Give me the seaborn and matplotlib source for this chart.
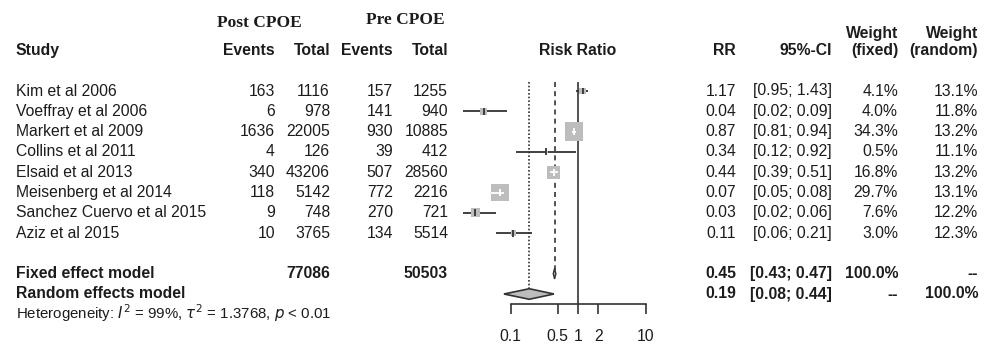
import numpy as np
import matplotlib
matplotlib.use("Agg")
import matplotlib.pyplot as plt
import seaborn as sns

sns.set_style("white")
plt.rcParams['font.family'] = ['Liberation Sans', 'DejaVu Sans']

####### data

studies = ["Kim et al 2006", "Voeffray et al 2006", "Markert et al 2009", "Collins et al 2011",
           "Elsaid et al 2013", "Meisenberg et al 2014", "Sanchez Cuervo et al 2015", "Aziz et al 2015"]
post_events = [163, 6, 1636, 4, 340, 118, 9, 10]
post_total = [1116, 978, 22005, 126, 43206, 5142, 748, 3765]
pre_events = [157, 141, 930, 39, 507, 772, 270, 134]
pre_total = [1255, 940, 10885, 412, 28560, 2216, 721, 5514]
rr = [1.17, 0.04, 0.87, 0.34, 0.44, 0.07, 0.03, 0.11]
ci_lo = [0.95, 0.02, 0.81, 0.12, 0.39, 0.05, 0.02, 0.06]
ci_hi = [1.43, 0.09, 0.94, 0.92, 0.51, 0.08, 0.06, 0.21]
w_fixed = [4.1, 4.0, 34.3, 0.5, 16.8, 29.7, 7.6, 3.0]
w_random = [13.1, 11.8, 13.2, 11.1, 13.2, 13.1, 12.2, 12.3]

fixed_est, fixed_lo, fixed_hi = 0.45, 0.43, 0.47
random_est, random_lo, random_hi = 0.19, 0.08, 0.44
post_sum, pre_sum = 77086, 50503
tick_vals = [0.1, 0.5, 1, 2, 10]
tick_labels = ["0.1", "0.5", "1", "2", "10"]

# layout: row r sits at pixel 91 + 20.3*r
W, H = 992, 347
ROW0, ROWH = 91, 20.3
ylim = ((H - ROW0) / ROWH, -ROW0 / ROWH)
rows = np.arange(len(studies))
r_fixed, r_random, r_het = 9, 10, 11

TXT = "#1c1c1c"
LINE = "#333333"
GREY = "#bdbdbd"
FS = 11.3

fig = plt.figure(figsize=(W / 100, H / 100), dpi=100)
tx = fig.add_axes([0, 0, 1, 1])
tx.set_xlim(0, W)
tx.set_ylim(*ylim)
tx.set_axis_off()

def t(x, r, s, ha="right", bold=False, size=FS, **kw):
    tx.text(x, r, s, ha=ha, va="center", color=TXT, fontsize=size,
            fontweight="bold" if bold else "normal", **kw)

# headers
serif = ["Liberation Serif", "DejaVu Serif"]
t(259, -3.35, "Post CPOE", ha="center", bold=True, size=12.5, family=serif)
t(405, -3.5, "Pre CPOE", ha="center", bold=True, size=12.5, family=serif)
t(16, -2, "Study", ha="left", bold=True)
t(275, -2, "Events", bold=True)
t(330, -2, "Total", bold=True)
t(393, -2, "Events", bold=True)
t(448, -2, "Total", bold=True)
t(578, -2, "Risk Ratio", ha="center", bold=True)
t(736, -2, "RR", bold=True)
t(832, -2, "95%-CI", bold=True)
t(898, -2.85, "Weight", bold=True)
t(898, -2, "(fixed)", bold=True)
t(978, -2.85, "Weight", bold=True)
t(978, -2, "(random)", bold=True)

for i, r in enumerate(rows):
    t(16, r, studies[i], ha="left")
    t(275, r, str(post_events[i]))
    t(330, r, str(post_total[i]))
    t(393, r, str(pre_events[i]))
    t(448, r, str(pre_total[i]))
    t(736, r, f"{rr[i]:.2f}")
    t(832, r, f"[{ci_lo[i]:.2f}; {ci_hi[i]:.2f}]")
    t(898, r, f"{w_fixed[i]:.1f}%")
    t(978, r, f"{w_random[i]:.1f}%")

t(16, r_fixed, "Fixed effect model", ha="left", bold=True)
t(330, r_fixed, str(post_sum), bold=True)
t(448, r_fixed, str(pre_sum), bold=True)
t(736, r_fixed, f"{fixed_est:.2f}", bold=True)
t(832, r_fixed, f"[{fixed_lo:.2f}; {fixed_hi:.2f}]", bold=True)
t(898, r_fixed, "100.0%", bold=True)
t(978, r_fixed, "--", bold=True)
t(16, r_random, "Random effects model", ha="left", bold=True)
t(736, r_random, f"{random_est:.2f}", bold=True)
t(832, r_random, f"[{random_lo:.2f}; {random_hi:.2f}]", bold=True)
t(898, r_random, "--", bold=True)
t(978, r_random, "100.0%", bold=True)
t(16, r_het - 0.05, r"Heterogeneity: $I^2$ = 99%, $\tau^2$ = 1.3768, $p$ < 0.01", ha="left", size=10.8)

# forest panel, log scale: 1 at pixel 578, 67.5 px per decade
x0, x1 = 440, 660
ax = fig.add_axes([x0 / W, 0, (x1 - x0) / W, 1])
ax.patch.set_alpha(0)
ax.set_xscale("log")
ax.set_xlim(10 ** ((x0 - 578) / 67.5), 10 ** ((x1 - 578) / 67.5))
ax.set_ylim(*ylim)
for s in ["top", "left", "right"]:
    ax.spines[s].set_visible(False)
ax.spines["bottom"].set_position(("data", 10.5))
ax.spines["bottom"].set_bounds(tick_vals[0], tick_vals[-1])
ax.spines["bottom"].set_color(LINE)
ax.spines["bottom"].set_linewidth(1.2)
ax.set_xticks(tick_vals)
ax.set_xticklabels(tick_labels)
ax.minorticks_off()
ax.set_yticks([])
ax.tick_params(axis="x", bottom=True, length=7, width=1.2, color=LINE, pad=11,
               labelsize=FS, labelcolor=TXT)

r_top = (81.7 - ROW0) / ROWH
ax.vlines(1, r_top, 10.5, color=LINE, lw=1.2)
ax.vlines(fixed_est, r_top, r_fixed, color=LINE, lw=1.2, linestyles=(0, (3, 2.5)))
ax.vlines(random_est, r_top, r_random, color=LINE, lw=1.2, linestyles=(0, (1, 1.2)))

ax.hlines(rows, ci_lo, ci_hi, color=LINE, lw=1.3, zorder=2)
side_px = 3.2 * np.sqrt(w_fixed)
sns.scatterplot(x=rr, y=rows, s=(side_px * 0.72) ** 2, marker="s", color=GREY,
                linewidth=0, ax=ax, zorder=3, legend=False)
big = np.array(w_fixed) > 10
inner = np.where(big, "white", LINE)
ax.hlines(rows[big], np.array(ci_lo)[big], np.array(ci_hi)[big], color="white", lw=1.3, zorder=4)
ax.scatter(rr, rows, marker="|", s=25, c=inner, linewidths=1.3, zorder=5)

dh = 0.26
ax.fill([fixed_lo, fixed_est, fixed_hi, fixed_est], [r_fixed, r_fixed - dh, r_fixed, r_fixed + dh],
        facecolor=GREY, edgecolor=LINE, lw=1, zorder=4)
ax.fill([random_lo, random_est, random_hi, random_est], [r_random, r_random - dh, r_random, r_random + dh],
        facecolor=GREY, edgecolor=LINE, lw=1.2, zorder=4)

fig.savefig("out.png", dpi=100)
